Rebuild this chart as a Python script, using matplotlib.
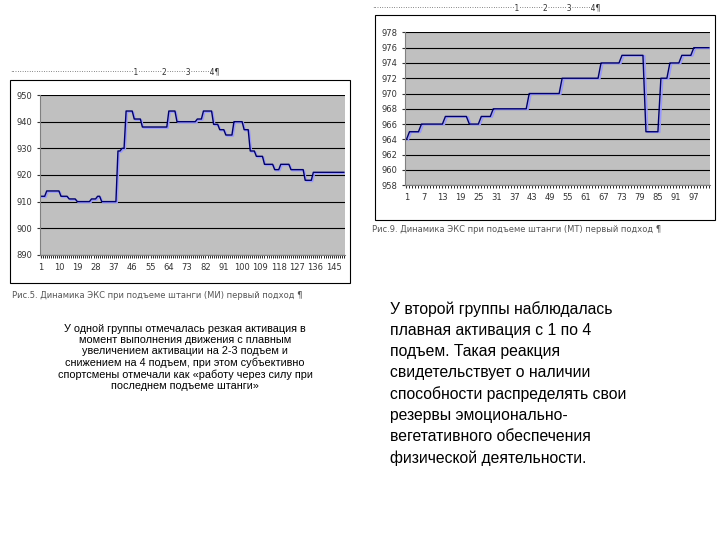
import numpy as np
import matplotlib
matplotlib.use("Agg")
import matplotlib.pyplot as plt
from matplotlib.patches import Rectangle

# Left chart: run lengths and levels (group 1)
left_len = [3, 7, 4, 4, 7, 3, 2, 8, 2, 2, 4, 4, 13, 4, 10, 3, 5, 3, 3, 4, 5, 3, 3, 4, 5, 3, 5, 7, 4, 16]
left_val = [912, 914, 912, 911, 910, 911, 912, 910, 929, 930, 944, 941, 938, 944, 940, 941, 944, 939, 937,
            935, 940, 937, 929, 927, 924, 922, 924, 922, 918, 921]
left_ticks = list(range(1, 150, 9))

# Right chart: run lengths and levels (group 2)
right_len = [1, 4, 8, 8, 4, 4, 12, 11, 13, 7, 8, 5, 3, 4, 4, 6]
right_val = [964, 965, 966, 967, 966, 967, 968, 970, 972, 974, 975, 965, 972, 974, 975, 976]
right_ticks = list(range(1, 100, 6))

left_y = np.repeat(left_val, left_len)
right_y = np.repeat(right_val, right_len)

fig = plt.figure(figsize=(7.2, 5.4), dpi=100)
fig.patch.set_facecolor("white")

def draw(ax, y, ticks, ylim, ystep):
    x = np.arange(1, len(y) + 1)
    ax.set_facecolor("#c0c0c0")
    ax.plot(x + 0.6, y - ystep * 0.04, color="#9999ff", lw=1.2)
    ax.plot(x, y, color="#000066", lw=1.0)
    ax.set_xlim(0.5, len(y) + 0.5)
    ax.set_ylim(*ylim)
    ax.set_yticks(np.arange(ylim[0], ylim[1] + 0.1, ystep))
    ax.set_xticks(ticks)
    ax.set_xticks(x, minor=True)
    ax.grid(axis="y", color="black", lw=0.8)
    ax.set_axisbelow(True)
    ax.tick_params(labelsize=6, length=2, colors="#333333")
    ax.tick_params(which="minor", length=2)
    for s in ["top", "right"]:
        ax.spines[s].set_visible(False)
    ax.spines["left"].set_color("#808080")
    ax.spines["bottom"].set_color("#808080")

ax1 = fig.add_axes([0.055, 0.528, 0.424, 0.296])
draw(ax1, left_y, left_ticks, (890, 950), 10)
ax2 = fig.add_axes([0.5625, 0.657, 0.424, 0.283])
draw(ax2, right_y, right_ticks, (958, 978), 2)

# frames
fig.patches.append(Rectangle((10/720, 1-283/540), 340/720, 203/540, transform=fig.transFigure,
                             fill=False, ec="black", lw=0.8))
fig.patches.append(Rectangle((375/720, 1-220/540), 340/720, 205/540, transform=fig.transFigure,
                             fill=False, ec="black", lw=0.8))

# ruler-like header lines
fig.text(10/720, 1-72/540, "·" * 52 + "1" + "·" * 10 + "2" + "·" * 8 + "3" + "·" * 8 + "4¶",
         fontsize=5.5, color="#333333", va="center")
fig.text(372/720, 1-8/540, "·" * 60 + "1" + "·" * 10 + "2" + "·" * 8 + "3" + "·" * 8 + "4¶",
         fontsize=5.5, color="#333333", va="center")

# captions
fig.text(12/720, 1-296/540, "Рис.5. Динамика ЭКС при подъеме штанги (МИ) первый подход ¶",
         fontsize=6, color="#555555", va="center")
fig.text(372/720, 1-230/540, "Рис.9. Динамика ЭКС при подъеме штанги (МТ) первый подход ¶",
         fontsize=6, color="#555555", va="center")

left_text = ("У одной группы отмечалась резкая активация в\n"
             "момент выполнения движения с плавным\n"
             "увеличением активации на 2-3 подъем и\n"
             "снижением на 4 подъем, при этом субъективно\n"
             "спортсмены отмечали как «работу через силу при\n"
             "последнем подъеме штанги»")
fig.text(185/720, 1-324/540, left_text, fontsize=7.8, ha="center", va="top",
         linespacing=1.15, family="Liberation Sans")

right_text = ("У второй группы наблюдалась\n"
              "плавная активация с 1 по 4\n"
              "подъем. Такая реакция\n"
              "свидетельствует о наличии\n"
              "способности распределять свои\n"
              "резервы эмоционально-\n"
              "вегетативного обеспечения\n"
              "физической деятельности.")
fig.text(390/720, 1-301/540, right_text, fontsize=11.3, ha="left", va="top",
         linespacing=1.5, family="Liberation Sans")

fig.savefig("out.png", dpi=100)
